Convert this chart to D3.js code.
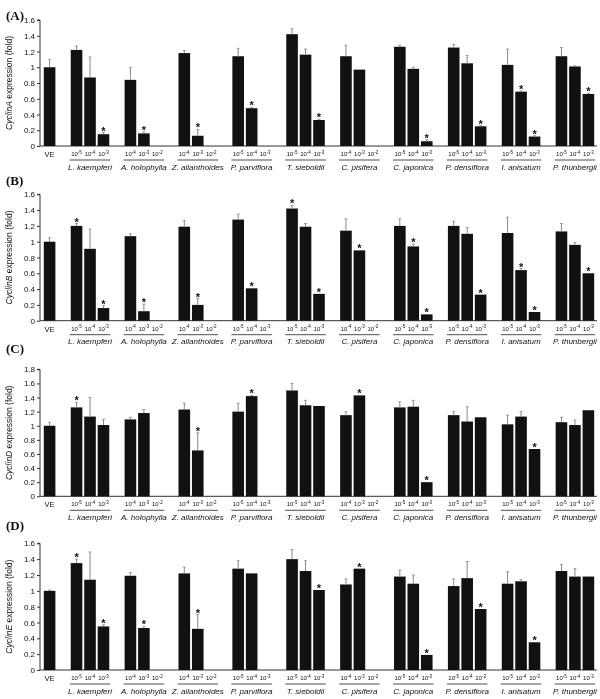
<!DOCTYPE html>
<html>
<head>
<meta charset="utf-8">
<script src="https://cdn.jsdelivr.net/npm/d3@7"></script>
<style>
  html, body { margin: 0; padding: 0; background: #fff; }
  svg { display: block; will-change: transform; }
  text { font-family: "Liberation Sans", Arial, sans-serif; fill: #111; }
</style>
</head>
<body>
<svg id="chart" width="600" height="699"></svg>
<script>
// ---------------- DATA ----------------
const species = ["L. kaempferi", "A. holophylla", "Z. ailanthoides", "P. parviflora", "T. sieboldii",
                 "C. pisifera", "C. japonica", "P. densiflora", "I. anisatum", "P. thunbergii"];
const doses = [["-5","-4","-3"], ["-4","-3","-2"], ["-4","-3","-2"], ["-5","-4","-3"], ["-5","-4","-3"],
               ["-4","-3","-2"], ["-5","-4","-3"], ["-5","-4","-3"], ["-5","-4","-3"], ["-5","-4","-3"]];
const panelLabels = ["(A)", "(B)", "(C)", "(D)"];
const genes = ["CyclinA", "CyclinB", "CyclinD", "CyclinE"];
const yMaxes = [1.6, 1.6, 1.8, 1.6];

// order: VE, then 3 doses per species (null = not shown)
const meanA = [1.00, 1.22,0.87,0.15, 0.84,0.16,null, 1.18,0.13,null, 1.14,0.48,null, 1.42,1.16,0.33,
               1.14,0.97,null, 1.26,0.98,0.06, 1.25,1.05,0.25, 1.03,0.69,0.12, 1.14,1.01,0.66];
const errA  = [0.10, 0.05,0.26,0.02, 0.16,0.02,null, 0.03,0.08,null, 0.10,0.01,null, 0.07,0.07,0.01,
               0.14,0.00,null, 0.02,0.02,0.02, 0.04,0.10,0.01, 0.20,0.01,0.01, 0.11,0.01,0.01];
const starA = [0, 0,0,1, 0,1,0, 0,1,0, 0,1,0, 0,0,1, 0,0,0, 0,0,1, 0,0,1, 0,1,1, 0,0,1];

const meanB = [1.00, 1.20,0.91,0.16, 1.07,0.12,null, 1.19,0.20,null, 1.28,0.41,null, 1.42,1.19,0.34,
               1.14,0.89,null, 1.20,0.94,0.08, 1.20,1.10,0.33, 1.11,0.64,0.11, 1.13,0.96,0.60];
const errB  = [0.05, 0.03,0.25,0.03, 0.03,0.09,null, 0.08,0.08,null, 0.07,0.00,null, 0.04,0.04,0.00,
               0.15,0.00,null, 0.09,0.03,0.00, 0.06,0.08,0.00, 0.20,0.02,0.00, 0.10,0.03,0.00];
const starB = [0, 1,0,1, 0,1,0, 0,1,0, 0,1,0, 1,0,1, 0,1,0, 0,1,1, 0,0,1, 0,1,1, 0,0,1];

const meanC = [1.00, 1.26,1.13,1.01, 1.09,1.18,null, 1.23,0.65,null, 1.20,1.42,null, 1.50,1.29,1.28,
               1.15,1.43,null, 1.26,1.27,0.20, 1.15,1.06,1.12, 1.02,1.13,0.67, 1.05,1.01,1.22];
const errC  = [0.05, 0.07,0.27,0.08, 0.03,0.05,null, 0.09,0.25,null, 0.12,0.01,null, 0.10,0.07,0.00,
               0.05,0.00,null, 0.08,0.09,0.00, 0.05,0.21,0.00, 0.13,0.07,0.00, 0.07,0.07,0.00];
const starC = [0, 1,0,0, 0,0,0, 0,1,0, 0,1,0, 0,0,0, 0,1,0, 0,0,1, 0,0,0, 0,0,1, 0,0,0];

const meanD = [1.00, 1.35,1.14,0.55, 1.19,0.53,null, 1.22,0.52,null, 1.28,1.22,null, 1.40,1.25,1.01,
               1.08,1.28,null, 1.18,1.09,0.19, 1.06,1.16,0.77, 1.09,1.12,0.35, 1.25,1.18,1.18];
const errD  = [0.01, 0.05,0.35,0.02, 0.04,0.02,null, 0.08,0.18,null, 0.10,0.00,null, 0.12,0.13,0.00,
               0.07,0.00,null, 0.08,0.11,0.00, 0.09,0.21,0.00, 0.15,0.02,0.00, 0.08,0.10,0.00];
const starD = [0, 1,0,1, 0,1,0, 0,1,0, 0,0,0, 0,0,1, 0,1,0, 0,0,1, 0,0,1, 0,0,1, 0,0,0];

const means = [meanA, meanB, meanC, meanD];
const errs = [errA, errB, errC, errD];
const stars = [starA, starB, starC, starD];

// ---------------- LAYOUT ----------------
const svg = d3.select("#chart");
const panelGeom = [
  { top: 20, base: 146, labelY: 20 },
  { top: 194.3, base: 320.7, labelY: 185 },
  { top: 369.3, base: 496.3, labelY: 353 },
  { top: 543.3, base: 670, labelY: 530 }
];
const axisX = 40;
const axisEnd = 597;

// slot index for each bar: VE=0, species g dose k => 2 + 4g + k
function slotOf(i) { return i === 0 ? 0 : 2 + 4 * Math.floor((i - 1) / 3) + ((i - 1) % 3); }
const x = d3.scaleBand().domain(d3.range(41)).range([43.8, 594.2]).paddingInner(0.139).paddingOuter(0);

panelGeom.forEach((pg, p) => {
  const g = svg.append("g");
  const y = d3.scaleLinear().domain([0, yMaxes[p]]).range([pg.base, pg.top]);
  const ticks = d3.range(0, yMaxes[p] + 0.001, 0.2);

  // panel label
  g.append("text").attr("x", 6).attr("y", pg.labelY)
    .attr("font-weight", "bold").attr("font-size", 13)
    .style("font-family", "'Liberation Serif', 'Times New Roman', serif")
    .text(panelLabels[p]);

  // y axis
  const ax = d3.axisLeft(y).tickValues(ticks).tickSize(3).tickPadding(2)
    .tickFormat(d => String(+d.toFixed(1)));
  const axG = g.append("g").attr("transform", `translate(${axisX},0)`).call(ax);
  axG.selectAll("text").attr("font-size", 8).style("font-family", "'Liberation Sans', Arial, sans-serif").attr("fill", "#111");
  axG.selectAll("line").attr("stroke", "#333");
  axG.select(".domain").attr("stroke", "#333").attr("d", `M-3,${pg.top}H0V${pg.base}`);

  // x baseline
  g.append("line").attr("x1", axisX).attr("x2", axisEnd).attr("y1", pg.base).attr("y2", pg.base)
    .attr("stroke", "#333").attr("stroke-width", 1);

  // y label
  const yl = g.append("text")
    .attr("transform", `translate(12,${(pg.top + pg.base) / 2}) rotate(-90)`)
    .attr("text-anchor", "middle").attr("font-size", 8.5);
  yl.append("tspan").attr("font-style", "italic").text(genes[p]);
  yl.append("tspan").text(" expression (fold)");

  // bars
  const data = means[p].map((v, i) => ({ v, e: errs[p][i], s: stars[p][i], slot: slotOf(i) }))
    .filter(d => d.v !== null);
  const bw = x.bandwidth();

  g.selectAll("rect.bar").data(data).enter().append("rect")
    .attr("x", d => x(d.slot)).attr("width", bw)
    .attr("y", d => y(d.v)).attr("height", d => pg.base - y(d.v))
    .attr("fill", "#111");

  // error bars
  const eb = data.filter(d => d.e > 0.005);
  g.selectAll("line.err").data(eb).enter().append("line")
    .attr("x1", d => x(d.slot) + bw / 2).attr("x2", d => x(d.slot) + bw / 2)
    .attr("y1", d => y(d.v)).attr("y2", d => y(d.v + d.e))
    .attr("stroke", "#888").attr("stroke-width", 1);
  g.selectAll("line.cap").data(eb).enter().append("line")
    .attr("x1", d => x(d.slot) + bw / 2 - 1.5).attr("x2", d => x(d.slot) + bw / 2 + 1.5)
    .attr("y1", d => y(d.v + d.e)).attr("y2", d => y(d.v + d.e))
    .attr("stroke", "#888").attr("stroke-width", 0.8);

  // stars
  g.selectAll("text.star").data(data.filter(d => d.s)).enter().append("text")
    .attr("x", d => x(d.slot) + bw / 2).attr("y", d => y(d.v + (d.e || 0)) + 2)
    .attr("text-anchor", "middle").attr("font-size", 11).attr("font-weight", "bold")
    .attr("fill", "#111").text("*");

  // VE label
  g.append("text").attr("x", x(0) + bw / 2).attr("y", pg.base + 11)
    .attr("text-anchor", "middle").attr("font-size", 7.5).text("VE");

  // dose labels, underline, species names
  species.forEach((sp, gi) => {
    doses[gi].forEach((dz, k) => {
      const cx = x(2 + 4 * gi + k) + bw / 2;
      const t = g.append("text").attr("x", cx).attr("y", pg.base + 10)
        .attr("text-anchor", "middle").attr("font-size", 6);
      t.append("tspan").text("10");
      t.append("tspan").attr("font-size", 4.5).attr("dy", -2.5).text(dz);
    });
    const x0 = x(2 + 4 * gi) - 1, x1 = x(4 + 4 * gi) + bw + 1;
    g.append("line").attr("x1", x0).attr("x2", x1)
      .attr("y1", pg.base + 14).attr("y2", pg.base + 14)
      .attr("stroke", "#222").attr("stroke-width", 0.8);
    g.append("text").attr("x", (x0 + x1) / 2).attr("y", pg.base + 23.5)
      .attr("text-anchor", "middle").attr("font-size", 8).attr("font-style", "italic").text(sp);
  });
});
</script>
</body>
</html>
